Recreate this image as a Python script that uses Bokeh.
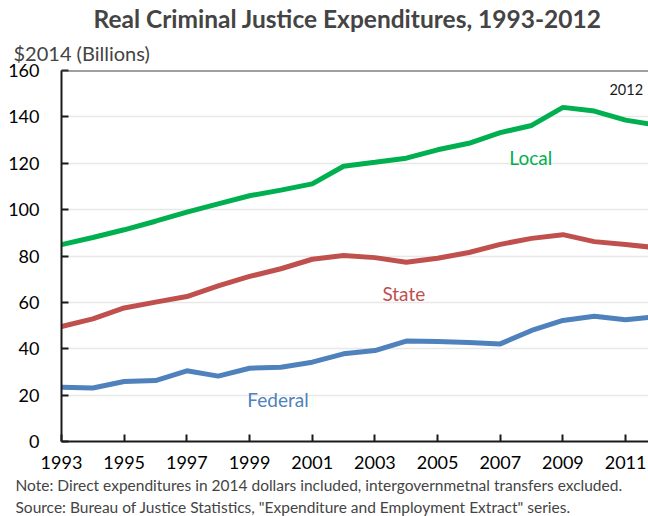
from bokeh.plotting import figure
from bokeh.models import Label, Span, FixedTicker, ColumnDataSource, Title
from bokeh.embed import file_html
from bokeh.resources import INLINE

years = list(range(1993, 2013))
local = [84.9, 88.0, 91.3, 95.0, 98.9, 102.5, 106.0, 108.4, 111.1, 118.7, 120.4, 122.2,
         125.8, 128.6, 133.2, 136.3, 144.1, 142.5, 138.6, 136.4]
state = [49.6, 52.9, 57.6, 60.1, 62.5, 67.1, 71.2, 74.5, 78.6, 80.2, 79.3, 77.3,
         79.0, 81.5, 85.0, 87.6, 89.2, 86.2, 85.0, 83.5]
federal = [23.4, 23.1, 25.9, 26.3, 30.5, 28.2, 31.6, 32.0, 34.2, 37.8, 39.2, 43.3,
           43.1, 42.7, 42.1, 47.9, 52.2, 54.0, 52.5, 53.9]
y_ticks = [0, 20, 40, 60, 80, 100, 120, 140, 160]
x_ticks = [1993, 1995, 1997, 1999, 2001, 2003, 2005, 2007, 2009, 2011]

title_text = "Real Criminal Justice Expenditures, 1993-2012"
ylabel_text = "$2014 (Billions)"
note_text = "Note: Direct expenditures in 2014 dollars included, intergovernmetnal transfers excluded."
source_text = 'Source: Bureau of Justice Statistics, "Expenditure and Employment Extract" series.'

FONT = "Lato"
GREEN = "#00B050"
RED = "#C0504D"
BLUE = "#4F81BD"

src = ColumnDataSource(dict(year=years, local=local, state=state, federal=federal))

p = figure(width=648, height=516, output_backend="svg", toolbar_location=None,
           x_range=(1993, 2011.73), y_range=(0, 160),
           min_border_left=61, min_border_right=0, min_border_top=70, min_border_bottom=75)
p.title.visible = False
p.outline_line_color = None
p.background_fill_color = "white"
p.border_fill_color = "white"

p.xgrid.visible = False
p.ygrid.grid_line_color = "#E8E8E8"
p.ygrid.grid_line_width = 1.5
p.ygrid.ticker = FixedTicker(ticks=y_ticks)

p.yaxis.ticker = FixedTicker(ticks=y_ticks)
p.xaxis.ticker = FixedTicker(ticks=x_ticks)
for ax in (p.xaxis[0], p.yaxis[0]):
    ax.axis_line_color = "#1a1a1a"
    ax.axis_line_width = 2
    ax.major_tick_line_color = "#1a1a1a"
    ax.major_tick_line_width = 2
    ax.major_tick_in = 7
    ax.major_tick_out = 0
    ax.minor_tick_line_color = None
    ax.major_label_text_font = FONT
    ax.major_label_text_font_size = "18px"
    ax.major_label_text_color = "black"
p.yaxis.major_label_standoff = 22
p.xaxis.major_label_standoff = 14

p.add_layout(Span(location=160, dimension="width", line_color="#404040", line_width=2))

p.line("year", "local", source=src, line_color=GREEN, line_width=5)
p.line("year", "state", source=src, line_color=RED, line_width=5)
p.line("year", "federal", source=src, line_color=BLUE, line_width=5)

# texts outside the frame as titles
p.add_layout(Title(text=ylabel_text, text_font=FONT, text_font_size="20px",
                   text_font_style="normal", align="left", offset=-48, standoff=12), "above")
p.add_layout(Title(text=title_text, text_font=FONT, text_font_size="24.5px",
                   text_font_style="bold", align="left", offset=32, standoff=0), "above")
p.add_layout(Title(text=note_text, text_font=FONT, text_font_size="15.5px",
                   text_font_style="normal", align="left", offset=-46, standoff=4), "below")
p.add_layout(Title(text=source_text, text_font=FONT, text_font_size="15.5px",
                   text_font_style="normal", align="left", offset=-46, standoff=1), "below")

def lab(x, y, text, size, color="black", align="left", baseline="middle"):
    p.add_layout(Label(x=x, y=y, text=text, text_font=FONT, text_font_size=size,
                       text_color=color, text_align=align, text_baseline=baseline))

lab(2011.02, 151.8, "2012", "14.5px", color="#1a1a1a", align="center")
lab(2007.29, 122.5, "Local", "19px", color=GREEN)
lab(2003.24, 63.8, "State", "19px", color=RED)
lab(1998.93, 18.1, "Federal", "19px", color=BLUE)

open("out.html", "w").write(file_html(p, INLINE))
